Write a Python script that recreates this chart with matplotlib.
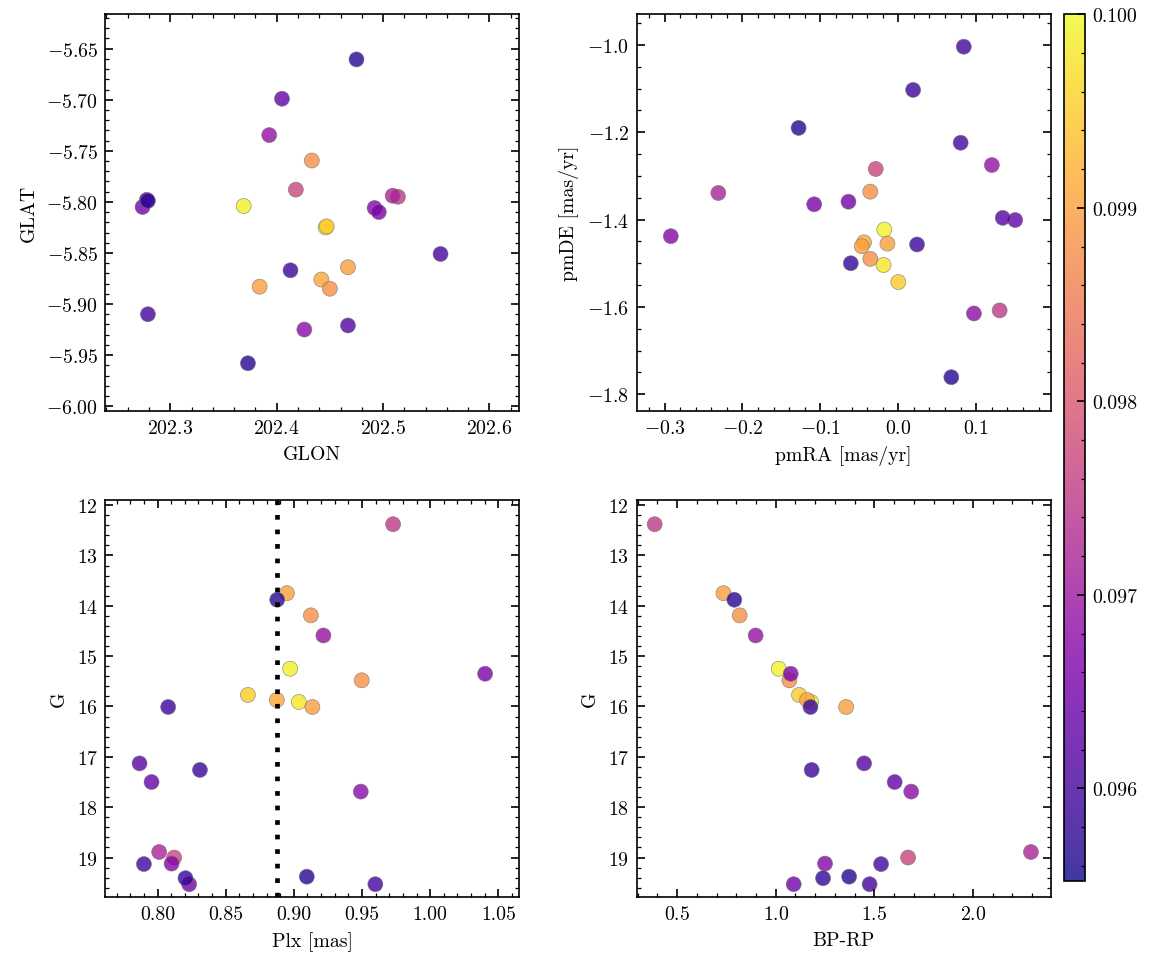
import matplotlib
matplotlib.use("Agg")
import matplotlib.pyplot as plt
from matplotlib.ticker import MultipleLocator, FormatStrFormatter

# one entry per star
prob = [0.0999, 0.0998, 0.0995, 0.0990, 0.0991, 0.0990, 0.0988, 0.0988,
        0.0977, 0.0975, 0.0972, 0.0969, 0.0968,
        0.0967, 0.0966, 0.0965, 0.0963, 0.0962,
        0.0960, 0.0960, 0.0959, 0.0959, 0.0958, 0.0957, 0.0957]
glon = [202.369, 202.446, 202.447, 202.467, 202.442, 202.384, 202.433, 202.450,
        202.418, 202.514, 202.509, 202.393, 202.426,
        202.492, 202.496, 202.274, 202.405, 202.467,
        202.554, 202.279, 202.278, 202.413, 202.279, 202.373, 202.475]
glat = [-5.804, -5.825, -5.824, -5.864, -5.876, -5.883, -5.7595, -5.885,
        -5.788, -5.795, -5.794, -5.7346, -5.925,
        -5.806, -5.810, -5.805, -5.699, -5.921,
        -5.851, -5.910, -5.798, -5.867, -5.799, -5.958, -5.6605]
pmra = [-0.018, -0.019, 0.000, -0.014, -0.044, -0.047, -0.036, -0.036,
        -0.029, 0.130, -0.231, 0.120, 0.097,
        -0.292, -0.108, -0.064, 0.150, 0.134,
        0.080, 0.084, 0.019, 0.024, -0.061, -0.128, 0.068]
pmde = [-1.423, -1.504, -1.543, -1.455, -1.452, -1.461, -1.336, -1.490,
        -1.284, -1.608, -1.339, -1.275, -1.615,
        -1.438, -1.365, -1.359, -1.401, -1.396,
        -1.224, -1.004, -1.103, -1.457, -1.500, -1.190, -1.761]
plx = [0.8973, 0.9037, 0.8663, 0.8949, 0.8875, 0.9136, 0.9125, 0.9498,
       0.8122, 0.9728, 0.8012, 0.9217, 0.9491,
       0.8103, 1.0403, 0.8232, 0.7956, 0.7868,
       0.7900, 0.9598, 0.8078, 0.8311, 0.8205, 0.8878, 0.9095]
gmag = [15.25, 15.91, 15.77, 13.75, 15.87, 16.01, 14.19, 15.48,
        19.00, 12.38, 18.89, 14.59, 17.69,
        19.12, 15.35, 19.53, 17.50, 17.13,
        19.13, 19.53, 16.01, 17.26, 19.41, 13.88, 19.38]
bprp = [1.015, 1.179, 1.118, 0.735, 1.159, 1.357, 0.817, 1.069,
        1.671, 0.386, 2.294, 0.898, 1.687,
        1.250, 1.076, 1.091, 1.603, 1.448,
        1.534, 1.476, 1.176, 1.182, 1.240, 0.790, 1.372]
plx_cut = 0.8875

plt.rcParams.update({
    "font.family": "serif",
    "font.serif": ["cmr10", "DejaVu Serif"],
    "mathtext.fontset": "cm",
    "axes.formatter.use_mathtext": True,
    "axes.unicode_minus": True,
    "font.size": 9.5,
    "axes.linewidth": 0.8,
    "xtick.direction": "in",
    "ytick.direction": "in",
    "xtick.top": True,
    "ytick.right": True,
    "xtick.minor.visible": True,
    "ytick.minor.visible": True,
    "xtick.major.size": 3.8,
    "ytick.major.size": 3.8,
    "xtick.minor.size": 1.9,
    "ytick.minor.size": 1.9,
    "xtick.major.width": 0.8,
    "ytick.major.width": 0.8,
    "xtick.minor.width": 0.6,
    "ytick.minor.width": 0.6,
})

fig = plt.figure(figsize=(7.7, 6.4333), dpi=150)
ax1 = fig.add_axes([0.0912, 0.5728, 0.3584, 0.4117])
ax2 = fig.add_axes([0.5511, 0.5728, 0.3589, 0.4117])
ax3 = fig.add_axes([0.0912, 0.0691, 0.3584, 0.4122])
ax4 = fig.add_axes([0.5511, 0.0691, 0.3589, 0.4122])
cax = fig.add_axes([0.9212, 0.0857, 0.0182, 0.8984])

kw = dict(c=prob, cmap="plasma", vmin=0.09552, vmax=0.1, s=52, alpha=0.8,
          edgecolors="0.45", linewidths=0.3)

sc = ax1.scatter(glon, glat, **kw)
ax1.set_xlim(202.239, 202.628)
ax1.set_ylim(-6.005, -5.616)
ax1.set_xlabel("GLON")
ax1.set_ylabel("GLAT")

ax2.scatter(pmra, pmde, **kw)
ax2.set_xlim(-0.336, 0.196)
ax2.set_ylim(-1.839, -0.929)
ax2.set_xlabel("pmRA [mas/yr]")
ax2.set_ylabel("pmDE [mas/yr]")

ax3.scatter(plx, gmag, **kw)
ax3.axvline(plx_cut, color="k", lw=2.25, linestyle=(0, (1, 2.1)))
ax3.set_xlim(0.7617, 1.0654)
ax3.set_ylim(19.79, 11.89)
ax3.xaxis.set_major_locator(MultipleLocator(0.05))
ax3.xaxis.set_major_formatter(FormatStrFormatter("%.2f"))
ax3.set_xlabel("Plx [mas]")
ax3.set_ylabel("G")

ax4.scatter(bprp, gmag, **kw)
ax4.set_xlim(0.294, 2.396)
ax4.set_ylim(19.79, 11.89)
ax4.set_xlabel("BP-RP")
ax4.set_ylabel("G")

cb = fig.colorbar(sc, cax=cax)
cb.set_ticks([0.096, 0.097, 0.098, 0.099, 0.100])
cb.ax.yaxis.set_major_formatter(FormatStrFormatter("%.3f"))
cb.ax.tick_params(which="both", direction="in")
cb.outline.set_linewidth(0.8)

fig.savefig("out.png", dpi=150)
